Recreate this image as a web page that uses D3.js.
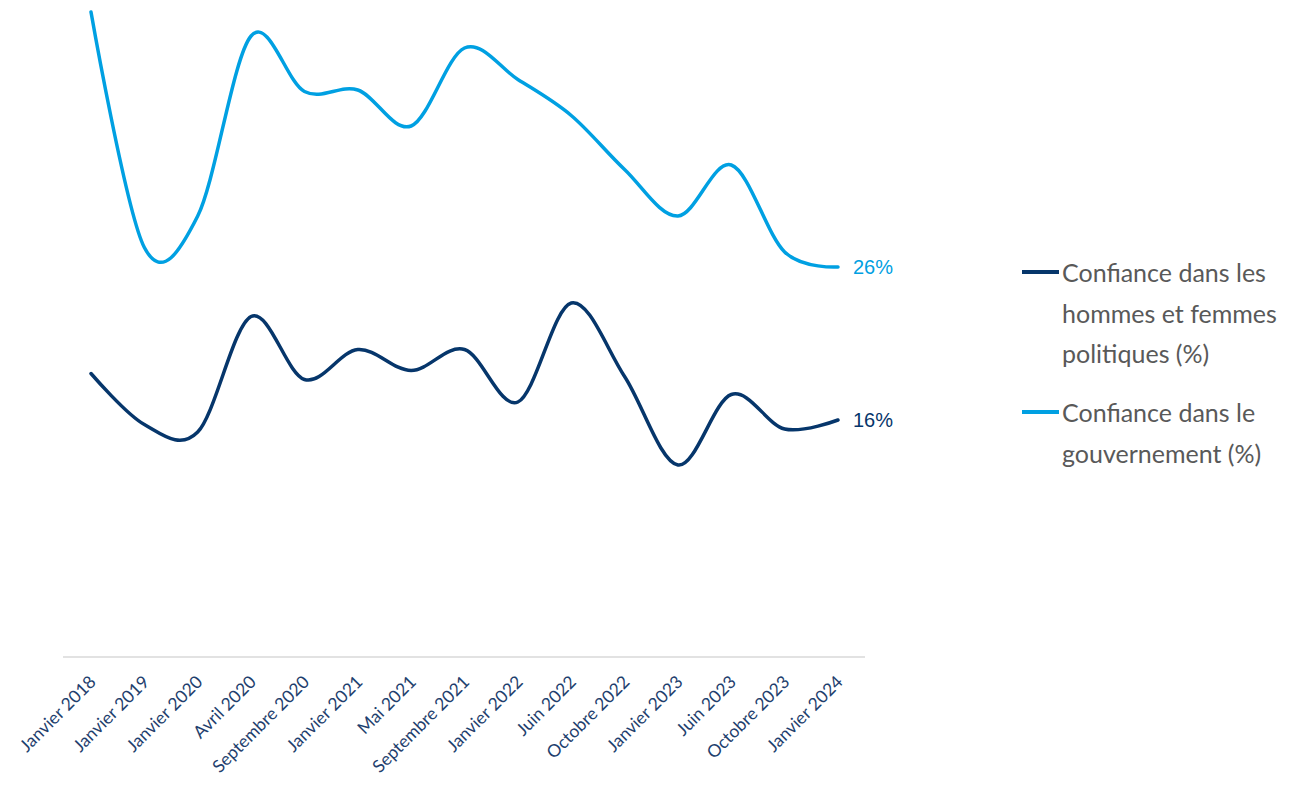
<!DOCTYPE html>
<html>
<head>
<meta charset="utf-8">
<script src="https://cdn.jsdelivr.net/npm/d3@7"></script>
<style>
  body { margin: 0; background: #fff; }
  svg { display: block; }
  .tick-label { font-family: Lato, "Open Sans", sans-serif; font-size: 17.5px; fill: #1f3f6e; }
  .end-label { font-family: "Liberation Sans", Arial, sans-serif; font-size: 20px; }
  .legend-text { font-family: Lato, "Open Sans", sans-serif; font-size: 25px; fill: #595959; }
</style>
</head>
<body>
<div id="chart"></div>
<script>
const categories = ["Janvier 2018", "Janvier 2019", "Janvier 2020", "Avril 2020", "Septembre 2020",
  "Janvier 2021", "Mai 2021", "Septembre 2021", "Janvier 2022", "Juin 2022", "Octobre 2022",
  "Janvier 2023", "Juin 2023", "Octobre 2023", "Janvier 2024"];

// confiance dans les hommes et femmes politiques (%)
const politiques = [18.9, 15.5, 15.0, 22.7, 18.5, 20.5, 19.1, 20.5, 17.0, 23.6, 18.7, 12.8, 17.5, 15.2, 15.8];
// confiance dans le gouvernement (%)
const gouvernement = [43.0, 27.3, 29.4, 41.4, 37.7, 37.8, 35.4, 40.6, 38.5, 36.1, 32.5, 29.4, 32.8, 27.0, 26.0];

const seriesNames = [
  ["Confiance dans les", "hommes et femmes", "politiques (%)"],
  ["Confiance dans le", "gouvernement (%)"]
];
const endLabels = ["16%", "26%"];
const colors = ["#06366b", "#00a0e2"];

const width = 1315, height = 786;

const svg = d3.select("#chart").append("svg")
  .attr("width", width)
  .attr("height", height);

const x = d3.scalePoint()
  .domain(categories)
  .range([91, 838]);

const y = d3.scaleLinear()
  .domain([0, 40])
  .range([657, 57]);

// axis baseline
svg.append("line")
  .attr("x1", 63).attr("x2", 865)
  .attr("y1", y(0)).attr("y2", y(0))
  .attr("stroke", "#d9d9d9")
  .attr("stroke-width", 1.5);

// category labels, rotated
svg.append("g")
  .selectAll("text")
  .data(categories)
  .enter().append("text")
  .attr("class", "tick-label")
  .attr("text-anchor", "end")
  .attr("transform", d => `translate(${x(d) + 6},${y(0) + 26}) rotate(-45)`)
  .text(d => d);

const line = d3.line()
  .x((d, i) => x(categories[i]))
  .y(d => y(d))
  .curve(d3.curveCardinal.tension(0));

const series = [politiques, gouvernement];

svg.append("g")
  .selectAll("path")
  .data(series)
  .enter().append("path")
  .attr("fill", "none")
  .attr("stroke", (d, i) => colors[i])
  .attr("stroke-width", 3.5)
  .attr("stroke-linecap", "round")
  .attr("d", line);

// value labels at the end of each line
svg.append("g")
  .selectAll("text")
  .data(series)
  .enter().append("text")
  .attr("class", "end-label")
  .attr("x", x(categories[categories.length - 1]) + 15)
  .attr("y", d => y(d[d.length - 1]))
  .attr("dy", "0.37em")
  .attr("fill", (d, i) => colors[i])
  .text((d, i) => endLabels[i]);

// legend
const legendTop = [272, 412];
const legend = svg.append("g")
  .selectAll("g")
  .data(seriesNames)
  .enter().append("g")
  .attr("transform", (d, i) => `translate(1022,${legendTop[i]})`);

legend.append("line")
  .attr("x1", 0).attr("x2", 37)
  .attr("stroke", (d, i) => colors[i])
  .attr("stroke-width", 4);

legend.each(function(lines) {
  const t = d3.select(this).append("text")
    .attr("class", "legend-text")
    .attr("x", 40)
    .attr("y", 10);
  t.selectAll("tspan")
    .data(lines)
    .enter().append("tspan")
    .attr("x", 40)
    .attr("dy", (d, i) => i === 0 ? 0 : 40.5)
    .text(d => d);
});
</script>
</body>
</html>
